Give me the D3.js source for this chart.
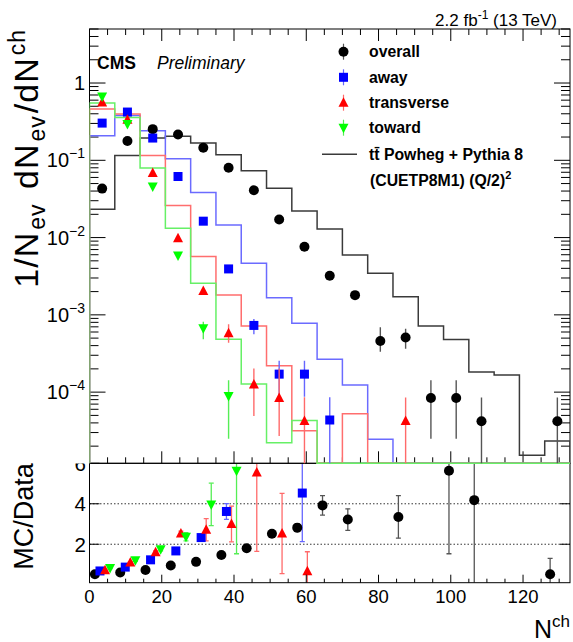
<!DOCTYPE html>
<html>
<head>
<meta charset="utf-8">
<script src="https://cdn.jsdelivr.net/npm/d3@7"></script>
<style>
  body { margin: 0; background: #fff; }
  text { font-family: "Liberation Sans", Arial, Helvetica, sans-serif; }
</style>
</head>
<body>
<svg id="chart" width="573" height="642"></svg>
<script>
// bin edges in N^ch
const nchEdges = [0, 7, 14, 21, 28, 35, 42, 49, 56, 63, 70, 77, 84, 91, 98, 105, 112, 119, 126, 133];
const xTickValues = [0, 20, 40, 60, 80, 100, 120];
const yMainExponents = [0, -1, -2, -3, -4];
const ratioTickValues = [2, 4, 6];

// data points (1/Nev dNev/dNch), per bin
const dataOverall = [0.043, 0.178, 0.253, 0.216, 0.145, 0.080, 0.041, 0.0171, 0.0076, 0.0032, 0.0018, 4.6e-4, 5.1e-4, 8.4e-5, 8.4e-5, 4.2e-5, null, null, 4.2e-5];
const errUpOverall = [0, 0, 0, 0, 0, 0, 0, 0, 0, 0, 0, 2.3e-4, 1.5e-4, 5.9e-5, 5.9e-5, 4.35e-5, 0, 0, 4.35e-5];
const errDownOverall = [0, 0, 0, 0, 0, 0, 0, 0, 0, 0, 0, 1.27e-4, 1.45e-4, 5.9e-5, 5.9e-5, 4.2e-5, 0, 0, 4.2e-5];

const dataAway = [0.303, 0.421, 0.194, 0.0617, 0.0163, 0.00393, 7.3e-4, 1.71e-4, 1.71e-4, 4.36e-5];
const errUpAway = [0, 0, 0, 0, 0, 0, 1.55e-4, 8.4e-5, 8.4e-5, 4.2e-5];
const errDownAway = [0, 0, 0, 0, 0, 0, 1.7e-4, 8.4e-5, 8.4e-5, 4.36e-5];

const dataTrans = [0.561, 0.335, 0.0683, 0.0098, 0.00204, 5.78e-4, 1.26e-4, 8.4e-5, 4.22e-5, null, null, null, 4.22e-5];
const errUpTrans = [0, 0, 0, 0, 0, 1.77e-4, 7.7e-5, 1.19e-4, 4.35e-5, 0, 0, 0, 4.3e-5];
const errDownTrans = [0, 0, 0, 0, 0, 1.41e-4, 7.7e-5, 5.7e-5, 4.22e-5, 0, 0, 0, 4.22e-5];

const dataToward = [0.671, 0.294, 0.0458, 0.00585, 6.7e-4, 8.9e-5];
const errUpToward = [0, 0, 0, 0, 1.46e-4, 5.4e-5];
const errDownToward = [0, 0, 0, 0, 1.87e-4, 6.4e-5];

// ttbar Powheg + Pythia 8 predictions
const mcOverall = [0.0233, 0.115, 0.194, 0.204, 0.167, 0.118, 0.073, 0.0436, 0.022, 0.0129, 0.00597, 0.00346, 0.00172, 7.2e-4, 4.8e-4, 1.82e-4, 1.67e-4, 1.53e-5, 2.33e-5];
const mcAway = [0.208, 0.38, 0.241, 0.105, 0.0383, 0.0146, 0.00466, 0.00167, 7.8e-4, 2.66e-4, 1.24e-4, 2.45e-5, 0, 0, 0, 0, 0, 0, 0];
const mcTrans = [0.46, 0.397, 0.115, 0.026, 0.00567, 0.00181, 7.18e-4, 2.2e-4, 3.16e-5, 0, 5.25e-5, 0, 0, 0, 0, 0, 0, 0, 0];
const mcToward = [0.551, 0.359, 0.0792, 0.01324, 0.00257, 4.83e-4, 1.27e-4, 2.21e-5, 4.31e-5, 0, 0, 0, 0, 0, 0, 0, 0, 0, 0];

// MC/Data
const ratioOverall = [0.52, 0.60, 0.73, 0.95, 1.13, 1.47, 1.80, 2.52, 2.82, 3.92, 3.22, null, 3.35, null, 5.63, 4.18, null, null, 0.52];
const ratioErrOverall = [0.03, 0.03, 0.03, 0.04, 0.05, 0.07, 0.09, 0.12, 0.2, 0.48, 0.53, null, 1.05, null, 4.1, 12, null, null, 0.78];
const ratioAway = [0.68, 0.87, 1.23, 1.67, 2.33, 3.62, null, null, 4.53];
const ratioErrAway = [0.03, 0.04, 0.05, 0.08, 0.12, 0.39, null, null, 2.4];
const ratioTrans = [0.72, 1.10, 1.60, 2.53, 2.72, 3.0, 5.55, 2.53, 0.67];
const ratioErrTrans = [0.03, 0.04, 0.07, 0.12, 0.55, 0.88, 3.9, 1.98, 0.96];
const ratioToward = [0.83, 1.21, 1.75, 2.37, 3.97, 5.63];
const ratioErrToward = [0.03, 0.05, 0.08, 0.2, 1.05, 4.1];

const series = [
  { label: "overall", data: dataOverall, up: errUpOverall, down: errDownOverall, mc: mcOverall,
    ratio: ratioOverall, ratioErr: ratioErrOverall, color: "#000", errColor: "#555", histColor: "#3a3a3a",
    shape: "circle", shift: -2.0 },
  { label: "away", data: dataAway, up: errUpAway, down: errDownAway, mc: mcAway,
    ratio: ratioAway, ratioErr: ratioErrAway, color: "#0000ff", errColor: "#6666ff", histColor: "#6b6bff",
    shape: "square", shift: -0.6 },
  { label: "transverse", data: dataTrans, up: errUpTrans, down: errDownTrans, mc: mcTrans,
    ratio: ratioTrans, ratioErr: ratioErrTrans, color: "#ff0000", errColor: "#ff6a6a", histColor: "#ff6e6e",
    shape: "triUp", shift: 0.8 },
  { label: "toward", data: dataToward, up: errUpToward, down: errDownToward, mc: mcToward,
    ratio: ratioToward, ratioErr: ratioErrToward, color: "#00ff00", errColor: "#55ee55", histColor: "#66f066",
    shape: "triDown", shift: 2.2 }
];

const svg = d3.select("#chart");
const frame = { left: 89.5, right: 570, top: 29, mid: 463.3, bottom: 582.7 };

const x = d3.scaleLinear().domain([0, 133]).range([frame.left, frame.right]);
const yMain = d3.scaleLog().domain([1.2e-5, 5]).range([frame.mid, frame.top]).clamp(true);
const yRatio = d3.scaleLinear().domain([0.1, 6]).range([frame.bottom, frame.mid]).clamp(true);

const binCenter = i => (nchEdges[i] + nchEdges[i + 1]) / 2;
const yLog = v => (v > 0 ? yMain(v) : frame.mid);

const defs = svg.append("defs");
defs.append("clipPath").attr("id", "clipMain").append("rect")
  .attr("x", frame.left).attr("y", frame.top)
  .attr("width", frame.right - frame.left).attr("height", frame.mid - frame.top + 1);
defs.append("clipPath").attr("id", "clipRatio").append("rect")
  .attr("x", frame.left).attr("y", frame.mid)
  .attr("width", frame.right - frame.left).attr("height", frame.bottom - frame.mid);
defs.append("clipPath").attr("id", "clipSix").append("rect")
  .attr("x", 0).attr("y", 463.5).attr("width", 89).attr("height", 30);

function drawMarker(g, shape, cx, cy, color) {
  if (shape === "circle") {
    g.append("circle").attr("cx", cx).attr("cy", cy).attr("r", 5).attr("fill", color);
  } else if (shape === "square") {
    g.append("rect").attr("x", cx - 4.5).attr("y", cy - 4.5).attr("width", 9).attr("height", 9).attr("fill", color);
  } else if (shape === "triUp") {
    g.append("path").attr("d", `M${cx - 5},${cy + 4} L${cx + 5},${cy + 4} L${cx},${cy - 5.5} Z`).attr("fill", color);
  } else {
    g.append("path").attr("d", `M${cx - 5},${cy - 4} L${cx + 5},${cy - 4} L${cx},${cy + 5.5} Z`).attr("fill", color);
  }
}

// ---------- ratio panel ----------
const ratioG = svg.append("g");
ratioTickValues.filter(v => v < 6).forEach(v => {
  ratioG.append("line").attr("x1", frame.left).attr("x2", frame.right)
    .attr("y1", yRatio(v)).attr("y2", yRatio(v))
    .attr("stroke", "#000").attr("stroke-width", 0.8).attr("stroke-dasharray", "1.5,2");
});

const ratioData = ratioG.append("g").attr("clip-path", "url(#clipRatio)");
series.forEach(s => {
  s.ratio.forEach((r, i) => {
    if (r == null) return;
    const cx = x(binCenter(i) + s.shift);
    const e = s.ratioErr[i];
    const yTop = yRatio(r + e), yBot = yRatio(r - e);
    ratioData.append("line").attr("x1", cx).attr("x2", cx).attr("y1", yTop).attr("y2", yBot)
      .attr("stroke", s.errColor).attr("stroke-width", 1.3);
    if (e < 5) {
      [r + e, r - e].forEach(v => {
        if (v > 0.1 && v < 6) {
          ratioData.append("line").attr("x1", cx - 2.5).attr("x2", cx + 2.5)
            .attr("y1", yRatio(v)).attr("y2", yRatio(v))
            .attr("stroke", s.errColor).attr("stroke-width", 1.3);
        }
      });
    }
  });
});
series.forEach(s => {
  s.ratio.forEach((r, i) => {
    if (r == null || r > 6 || r < 0.1) return;
    drawMarker(ratioData, s.shape, x(binCenter(i) + s.shift), yRatio(r), s.color);
  });
});

// ratio frame and ticks
ratioG.append("rect").attr("x", frame.left).attr("y", frame.mid)
  .attr("width", frame.right - frame.left).attr("height", frame.bottom - frame.mid)
  .attr("fill", "none").attr("stroke", "#000").attr("stroke-width", 1);
d3.range(0, 134, 5).forEach(v => {
  const len = v % 20 === 0 ? 8 : 4;
  ratioG.append("line").attr("x1", x(v)).attr("x2", x(v))
    .attr("y1", frame.bottom).attr("y2", frame.bottom - len).attr("stroke", "#000");
});
ratioTickValues.forEach(v => {
  ratioG.append("line").attr("x1", frame.left).attr("x2", frame.left + 10)
    .attr("y1", yRatio(v)).attr("y2", yRatio(v)).attr("stroke", "#000");
  ratioG.append("line").attr("x1", frame.right).attr("x2", frame.right - 10)
    .attr("y1", yRatio(v)).attr("y2", yRatio(v)).attr("stroke", "#000");
  ratioG.append("text").attr("x", 86).attr("y", yRatio(v) + 7.5)
    .attr("text-anchor", "end").attr("font-size", 20.5).text(v)
    .attr("clip-path", v === 6 ? "url(#clipSix)" : null);
});
xTickValues.forEach(v => {
  ratioG.append("text").attr("x", x(v)).attr("y", 603)
    .attr("text-anchor", "middle").attr("font-size", 18.5).text(v);
});
const xTitle = ratioG.append("text").attr("x", 570).attr("y", 638)
  .attr("text-anchor", "end").attr("font-size", 25);
xTitle.append("tspan").text("N");
xTitle.append("tspan").attr("dy", -11).attr("font-size", 17).text("ch");

ratioG.append("text")
  .attr("transform", `translate(33,${frame.mid}) rotate(-90)`)
  .attr("text-anchor", "end").attr("font-size", 27).text("MC/Data");

// ---------- main panel ----------
const mainG = svg.append("g");

// frame and ticks first, histograms are drawn over them
mainG.append("rect").attr("x", frame.left).attr("y", frame.top)
  .attr("width", frame.right - frame.left).attr("height", frame.mid - frame.top)
  .attr("fill", "none").attr("stroke", "#000").attr("stroke-width", 1);
d3.range(0, 134, 5).forEach(v => {
  const len = v % 20 === 0 ? 12 : 6;
  mainG.append("line").attr("x1", x(v)).attr("x2", x(v))
    .attr("y1", frame.mid).attr("y2", frame.mid - len).attr("stroke", "#000");
  mainG.append("line").attr("x1", x(v)).attr("x2", x(v))
    .attr("y1", frame.top).attr("y2", frame.top + len).attr("stroke", "#000");
});
d3.range(-5, 1).forEach(p => {
  for (let m = 1; m <= 9; m++) {
    const v = m * Math.pow(10, p);
    if (v < 1.2e-5 || v > 5) continue;
    const len = m === 1 ? 16 : 9;
    const yy = yMain(v);
    mainG.append("line").attr("x1", frame.left).attr("x2", frame.left + len)
      .attr("y1", yy).attr("y2", yy).attr("stroke", "#000");
    mainG.append("line").attr("x1", frame.right).attr("x2", frame.right - len)
      .attr("y1", yy).attr("y2", yy).attr("stroke", "#000");
  }
});
yMainExponents.forEach(p => {
  const yy = yMain(Math.pow(10, p));
  const t = mainG.append("text").attr("x", 85).attr("y", yy + 7)
    .attr("text-anchor", "end").attr("font-size", 20);
  if (p === 0) {
    t.text("1");
  } else {
    t.append("tspan").text("10");
    t.append("tspan").attr("dy", -9).attr("font-size", 14).text("\u2212" + (-p));
  }
});

const mainData = mainG.append("g").attr("clip-path", "url(#clipMain)");

series.forEach(s => {
  const pts = [[0, 0]];
  s.mc.forEach((v, i) => {
    pts.push([nchEdges[i], v]);
    pts.push([nchEdges[i + 1], v]);
  });
  pts.push([133, 0]);
  const line = d3.line().x(d => x(d[0])).y(d => yLog(d[1]));
  mainData.append("path").attr("d", line(pts))
    .attr("fill", "none").attr("stroke", s.histColor).attr("stroke-width", 1.5);
});

series.forEach(s => {
  s.data.forEach((v, i) => {
    if (v == null) return;
    const cx = x(binCenter(i));
    if (s.up[i] > 0 || s.down[i] > 0) {
      mainData.append("line").attr("x1", cx).attr("x2", cx)
        .attr("y1", yLog(v + s.up[i])).attr("y2", yLog(v - s.down[i]))
        .attr("stroke", s.errColor).attr("stroke-width", 1.4);
    }
    drawMarker(mainData, s.shape, cx, yMain(v), s.color);
  });
});

// y title, TLatex-like spacing around sub/superscripts
const yTitle = mainG.append("text")
  .attr("transform", `translate(38,${frame.top}) rotate(-90)`)
  .attr("text-anchor", "end").attr("font-size", 34).attr("letter-spacing", 1);
yTitle.append("tspan").text("1/N");
yTitle.append("tspan").attr("dx", 2).attr("dy", 7).attr("font-size", 23).text("ev");
yTitle.append("tspan").attr("dx", 4).attr("dy", -7).text(" dN");
yTitle.append("tspan").attr("dx", 2).attr("dy", 7).attr("font-size", 23).text("ev");
yTitle.append("tspan").attr("dx", 2).attr("dy", -7).text("/dN");
yTitle.append("tspan").attr("dx", 2).attr("dy", -13).attr("font-size", 23).text("ch");

// header texts
const lumi = svg.append("text").attr("x", 557).attr("y", 26)
  .attr("text-anchor", "end").attr("font-size", 17);
lumi.append("tspan").text("2.2 fb");
lumi.append("tspan").attr("dy", -7).attr("font-size", 12).text("-1");
lumi.append("tspan").attr("dy", 7).text(" (13 TeV)");

svg.append("text").attr("x", 97).attr("y", 68.5).attr("font-size", 17.5)
  .attr("font-weight", "bold").text("CMS");
svg.append("text").attr("x", 157).attr("y", 68.5).attr("font-size", 17.5)
  .attr("font-style", "italic").text("Preliminary");

// legend
const legend = svg.append("g");
const legendRows = [51.7, 77.3, 102.7, 127.7];
series.forEach((s, k) => {
  const yy = legendRows[k];
  legend.append("line").attr("x1", 343.5).attr("x2", 343.5).attr("y1", yy - 8).attr("y2", yy + 8)
    .attr("stroke", s.errColor).attr("stroke-width", 1.2);
  drawMarker(legend, s.shape, 343.5, yy, s.color);
  legend.append("text").attr("x", 369).attr("y", yy + 5.5).attr("font-size", 15.8)
    .attr("font-weight", "bold").text(s.label);
});
legend.append("line").attr("x1", 322).attr("x2", 357).attr("y1", 154.3).attr("y2", 154.3)
  .attr("stroke", "#3a3a3a").attr("stroke-width", 1.5);
legend.append("text").attr("x", 369).attr("y", 160).attr("font-size", 15.8)
  .attr("font-weight", "bold").text("tt\u0304 Powheg + Pythia 8");
const tune = legend.append("text").attr("x", 370).attr("y", 186).attr("font-size", 15.8)
  .attr("font-weight", "bold");
tune.append("tspan").text("(CUETP8M1) (Q/2)");
tune.append("tspan").attr("dy", -7).attr("font-size", 11).text("2");
</script>
</body>
</html>
